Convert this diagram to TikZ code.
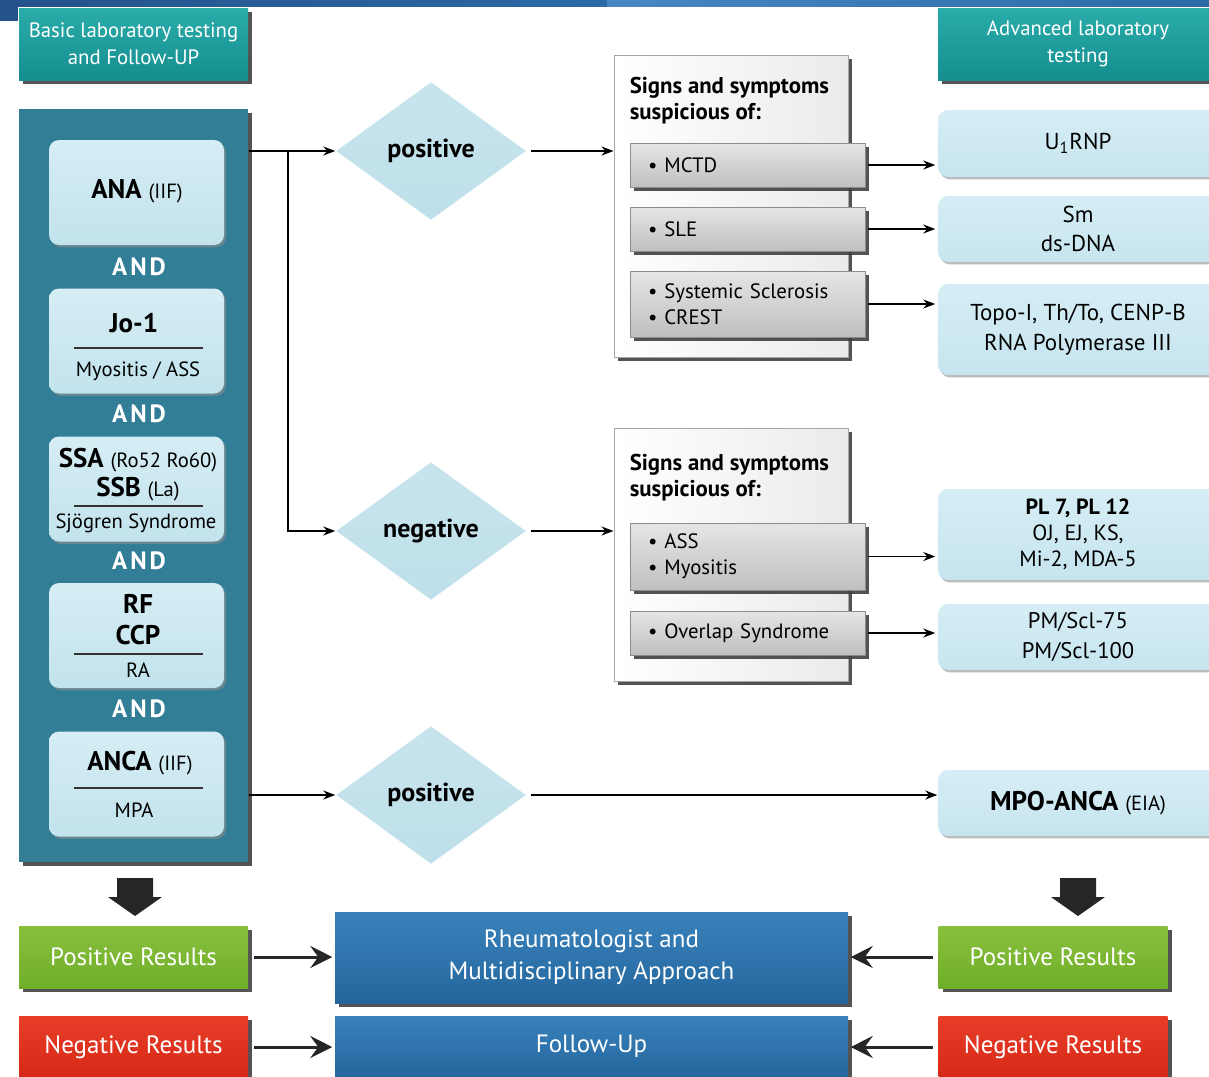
\documentclass[tikz,border=0pt]{standalone}
\usepackage{fontspec}
\setmainfont{PT Sans}
\newfontfamily\andfont{PT Sans}[LetterSpace=12]
\usepackage{xcolor}
\usepackage{tikz}
\usetikzlibrary{
    shapes.geometric,
    shadows,
    arrows.meta
}

\definecolor{stripdark}{RGB}{36,82,138}
\definecolor{stripmid}{RGB}{44,106,166}
\definecolor{striplight}{RGB}{74,134,194}
\definecolor{tealhi}{RGB}{42,172,170}
\definecolor{teallo}{RGB}{20,142,142}
\definecolor{panelblue}{RGB}{50,126,150}
\definecolor{testhi}{RGB}{214,237,244}
\definecolor{testlo}{RGB}{194,227,237}
\definecolor{diamondblue}{RGB}{190,224,234}
\definecolor{advhi}{RGB}{214,237,245}
\definecolor{advlo}{RGB}{198,229,239}
\definecolor{bluehi}{RGB}{58,130,186}
\definecolor{bluelo}{RGB}{36,102,158}
\definecolor{greenhi}{RGB}{136,192,62}
\definecolor{greenlo}{RGB}{112,174,42}
\definecolor{redhi}{RGB}{232,62,40}
\definecolor{redlo}{RGB}{214,40,22}

\newcommand{\testname}{\fontsize{13.5}{15}\selectfont\bfseries}
\newcommand{\testnote}{\fontsize{10.3}{12}\selectfont\mdseries}

\begin{document}
\begin{tikzpicture}[x=0.5pt,y=-0.5pt,>={Stealth[length=6pt,width=4.5pt]},line width=0.75pt]
    \tikzstyle{shadowdark}=[drop shadow={shadow xshift=2pt,shadow yshift=-2pt,fill=black!75,opacity=0.9}]
    \tikzstyle{shadowsoft}=[drop shadow={shadow xshift=1pt,shadow yshift=-1.2pt,fill=black!45,opacity=0.6}]
    \tikzstyle{header}=[rectangle, top color=tealhi, bottom color=teallo, text=white, minimum width=114.5pt, minimum height=36pt, align=center, font=\fontsize{10.4}{13.5}\selectfont, shadowdark]
    \tikzstyle{panel}=[rectangle, fill=panelblue, minimum width=114.5pt, minimum height=376.5pt, shadowdark]
    \tikzstyle{testbox}=[rectangle, rounded corners=5pt, top color=testhi, bottom color=testlo, minimum width=87.5pt, minimum height=52.5pt, shadowsoft]
    \tikzstyle{lbl}=[inner sep=0pt, font=\testnote]
    \tikzstyle{andlbl}=[inner sep=0pt, text=white, font=\fontsize{12.5}{14}\selectfont\andfont\bfseries]
    \tikzstyle{sepline}=[line width=0.6pt, black!80]
    \tikzstyle{decision}=[diamond, top color=diamondblue!85!white, bottom color=diamondblue, minimum width=95pt, minimum height=69pt, inner sep=0pt, aspect=1.4, font=\fontsize{13}{15}\selectfont\bfseries]
    \tikzstyle{group}=[rectangle, left color=white, right color=black!8, draw=black!35, line width=0.5pt, minimum width=117pt, shadowdark]
    \tikzstyle{grouptitle}=[inner sep=0pt, align=left, font=\fontsize{11.4}{13}\selectfont\bfseries]
    \tikzstyle{symptom}=[rectangle, top color=black!10, bottom color=black!25, draw=black!45, line width=0.5pt, minimum width=117.5pt, text width=99.5pt, inner xsep=9pt, align=left, font=\fontsize{10.4}{13}\selectfont, shadowdark]
    \tikzstyle{advbox}=[rectangle, rounded corners=5pt, top color=advhi, bottom color=advlo, minimum width=140pt, align=center, font=\fontsize{11.5}{14.5}\selectfont, shadowsoft]
    \tikzstyle{result}=[rectangle, minimum width=114.5pt, minimum height=31pt, text=white, font=\fontsize{12.5}{14}\selectfont, shadowdark]
    \tikzstyle{outcome}=[rectangle, top color=bluehi, bottom color=bluelo, minimum width=256.5pt, text=white, align=center, font=\fontsize{12.5}{16}\selectfont, shadowdark]
    \tikzstyle{bigarrow}=[-{Stealth[length=11pt,width=11pt,inset=4pt]}, line width=1.5pt, black!85, shorten <=2.5pt, shorten >=1pt]

    \clip (0,0) rectangle (1209,1076);

    % top strip
    \fill[left color=stripdark, right color=stripmid] (0,0) rectangle (607,6.5);
    \fill[stripdark] (0,0) rectangle (18,21);
    \fill[left color=striplight, right color=stripmid] (607,0) rectangle (1209,6.5);

    % headers
    \node[header] (basic) at (133.5,44) {Basic laboratory testing\\and Follow-UP};
    \node[header, minimum width=140pt] (advanced) at (1078,44) {Advanced laboratory\\testing};

    % basic tests
    \node[panel] (panel) at (133.5,485.5) {};
    \node[testbox] (ana) at (136.5,192.5) {};
    \node[testbox] (jo) at (136.5,341) {};
    \node[testbox] (ssa) at (136.5,489) {};
    \node[testbox] (rf) at (136.5,635.5) {};
    \node[testbox] (anca) at (136.5,784) {};

    \node[andlbl] (and1) at (139,267) {AND};
    \node[andlbl] (and2) at (139,414) {AND};
    \node[andlbl] (and3) at (139,561) {AND};
    \node[andlbl] (and4) at (139,709) {AND};

    \node[lbl] (anaT) at (137,191) {\testname ANA \testnote(IIF)};
    \node[lbl] (joT) at (134,323) {\testname Jo-1};
    \draw[sepline] (74,348) -- (203,348);
    \node[lbl] (joD) at (138,371) {Myositis / ASS};
    \node[lbl] (ssaT) at (138,460) {\testname SSA \testnote(Ro52 Ro60)};
    \node[lbl] (ssbT) at (138,489) {\testname SSB \testnote(La)};
    \draw[sepline] (74,506) -- (203,506);
    \node[lbl] (ssaD) at (136,523) {Sjögren Syndrome};
    \node[lbl] (rfT) at (138,604) {\testname RF};
    \node[lbl] (ccpT) at (138,635) {\testname CCP};
    \draw[sepline] (74,654) -- (203,654);
    \node[lbl] (rfD) at (138,670) {RA};
    \node[lbl] (ancaT) at (140,763) {\testname ANCA \testnote(IIF)};
    \draw[sepline] (74,788) -- (203,788);
    \node[lbl] (ancaD) at (134,810) {MPA};

    % decisions
    \node[decision] (pos1) at (431,151) {positive};
    \node[decision] (neg) at (431,531) {negative};
    \node[decision] (pos3) at (431,795) {positive};

    % signs and symptoms
    \node[group, minimum height=151pt] (grp1) at (731,206) {};
    \node[grouptitle, anchor=west] (grp1T) at (629,101) {Signs and symptoms\\suspicious of:};
    \node[symptom, minimum height=22pt] (mctd) at (747.5,165) {\textbullet\ MCTD};
    \node[symptom, minimum height=22pt] (sle) at (747.5,229) {\textbullet\ SLE};
    \node[symptom, minimum height=33pt] (ssc) at (747.5,304) {\textbullet\ Systemic Sclerosis\\\textbullet\ CREST};

    \node[group, minimum height=126.5pt] (grp2) at (731,554.5) {};
    \node[grouptitle, anchor=west] (grp2T) at (629,478) {Signs and symptoms\\suspicious of:};
    \node[symptom, minimum height=33.5pt] (ass) at (747.5,556.5) {\textbullet\ ASS\\\textbullet\ Myositis};
    \node[symptom, minimum height=22pt] (overlap) at (747.5,633) {\textbullet\ Overlap Syndrome};

    % advanced tests
    \node[advbox, minimum height=33.5pt] (rnp) at (1078,143.5) {U\textsubscript{1}RNP};
    \node[advbox, minimum height=33pt] (dna) at (1078,229) {Sm\\ds-DNA};
    \node[advbox, minimum height=45.5pt, font=\fontsize{11.5}{15}\selectfont] (topo) at (1078,329.5) {Topo-I, Th/To, CENP-B\\RNA Polymerase III};
    \node[advbox, minimum height=45.5pt, font=\fontsize{11}{13}\selectfont] (pl) at (1078,534.5) {\textbf{PL 7, PL 12}\\OJ, EJ, KS,\\Mi-2, MDA-5};
    \node[advbox, minimum height=33pt, font=\fontsize{11.3}{15}\selectfont] (pmscl) at (1078,637) {PM/Scl-75\\PM/Scl-100};
    \node[advbox, minimum height=33pt] (mpo) at (1078,803) {\testname MPO-ANCA \testnote(EIA)};

    % connectors
    \draw[->] (panel.east |- pos1.west) -- (pos1.west);
    \coordinate (split) at (288,151);
    \draw[->] (split) |- (neg.west);
    \draw[->] (panel.east |- pos3.west) -- (pos3.west);
    \draw[->, shorten <=2pt] (pos1.east) -- (pos1.east -| grp1.west);
    \draw[->, shorten <=2pt] (neg.east) -- (neg.east -| grp2.west);
    \draw[->, shorten <=2pt] (pos3.east) -- (pos3.east -| mpo.west);
    \draw[->, shorten <=1pt, shorten >=1pt] (mctd.east) -- (mctd.east -| rnp.west);
    \draw[->, shorten <=1pt, shorten >=1pt] (sle.east) -- (sle.east -| dna.west);
    \draw[->, shorten <=1pt, shorten >=1pt] (ssc.east) -- (ssc.east -| topo.west);
    \draw[->, shorten <=1pt, shorten >=1pt] (ass.east) -- (ass.east -| pl.west);
    \draw[->, shorten <=1pt, shorten >=1pt] (overlap.east) -- (overlap.east -| pmscl.west);

    % results
    \coordinate (downL) at (135,878);
    \coordinate (downR) at (1078,878);
    \fill[black!85] (downL) ++(-18,0) -- ++(0,19) -- ++(-9,0) -- ++(27,19) -- ++(27,-19) -- ++(-9,0) -- ++(0,-19) -- cycle;
    \fill[black!85] (downR) ++(-18,0) -- ++(0,19) -- ++(-9,0) -- ++(27,19) -- ++(27,-19) -- ++(-9,0) -- ++(0,-19) -- cycle;

    \node[result, top color=greenhi, bottom color=greenlo] (posL) at (133.5,957) {Positive Results};
    \node[result, top color=redhi, bottom color=redlo] (negL) at (133.5,1047) {Negative Results};
    \node[outcome, minimum height=45.5pt] (rheum) at (591.5,957.5) {Rheumatologist and\\Multidisciplinary Approach};
    \node[outcome, minimum height=30pt] (follow) at (591.5,1046) {Follow-Up};
    \node[result, top color=greenhi, bottom color=greenlo] (posR) at (1053,957) {Positive Results};
    \node[result, top color=redhi, bottom color=redlo] (negR) at (1053,1047) {Negative Results};

    \draw[bigarrow] (posL.east) -- (rheum.west |- posL.east);
    \draw[bigarrow] (negL.east) -- (follow.west |- negL.east);
    \draw[bigarrow] (posR.west) -- (rheum.east |- posR.west);
    \draw[bigarrow] (negR.west) -- (follow.east |- negR.west);
\end{tikzpicture}
\end{document}
